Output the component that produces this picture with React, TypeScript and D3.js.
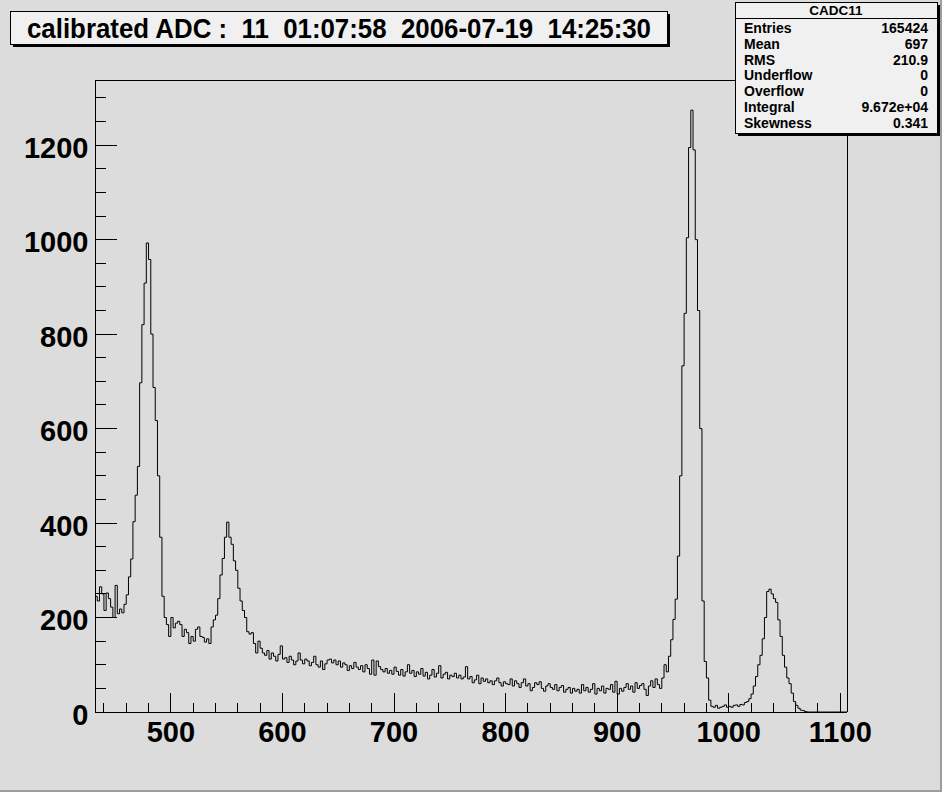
import React from "react";
import * as d3 from "d3";

// Histogram binning (ADC units)
const binLow = 432;
const binWidth = 2;
const axisMin = 432;
const axisMax = 1106;
const yMax = 1338;

// Bin contents (bin centres 433, 435, ... 1105)
const countsLowShelf = [245, 235, 265, 250, 215, 252, 240, 222, 200, 268, 208, 218, 210, 228, 248]; // 433-461
const countsPeak1 = [286, 324, 403, 459, 520, 697, 820, 908, 993, 958, 800, 687, 617, 500, 370, 245, 200]; // 463-495
const countsValley = [185, 160, 200, 178, 188, 192, 185, 160, 175, 168, 145, 160, 150, 175, 180, 160, 158, 148, 155, 145]; // 497-535
const countsPeak2 = [180, 195, 205, 240, 290, 325, 370, 402, 370, 355, 320, 300, 262, 235, 215, 200, 170, 165, 168, 145, 125, 150]; // 537-579
const countsTail1 = [
  135, 125, 120, 130, 112, 125, 118, 108, 122, 140,
  112, 115, 105, 118, 110, 100, 108, 125, 110, 102,
  112, 108, 98, 105, 118, 100, 95, 108, 90, 102,
  110, 112, 104, 110, 100, 108, 95, 104, 100, 88,
  98, 92, 105, 95, 90, 98, 85, 100, 92, 80,
  110, 78, 108, 96, 90, 85, 92, 82, 88, 80,
]; // 581-699
const countsTail2 = [
  95, 86, 78, 90, 76, 85, 100, 82, 88, 75,
  85, 80, 92, 76, 84, 70, 78, 90, 74, 82,
  98, 72, 80, 84, 70, 78, 75, 82, 72, 78,
  70, 74, 96, 70, 75, 62, 68, 78, 60, 72,
  65, 70, 62, 66, 58, 66, 72, 62, 55, 64,
]; // 701-799
const countsTail3 = [
  60, 58, 70, 55, 66, 60, 52, 62, 70, 55,
  60, 45, 52, 62, 58, 64, 50, 44, 55, 60,
  52, 48, 58, 45, 52, 56, 42, 48, 52, 40,
  50, 44, 48, 40, 58, 45, 52, 42, 48, 60,
  38, 50, 45, 55, 40, 50, 48, 58, 42, 65,
  38, 50, 44, 52, 60, 48, 55, 42, 62, 50,
  56, 60, 48, 35, 55, 66, 52, 70, 58, 50,
]; // 801-939
const countsPeak3 = [
  72, 100, 85, 118, 153, 196, 239, 330, 500, 733,
  844, 1004, 1195, 1274, 1190, 1000, 850, 600, 235, 107,
  72, 25, 12, 10, 14, 8, 10, 12, 15, 10,
]; // 941-999
const countsPeak4 = [
  12, 10, 14, 15, 12, 16, 15, 20, 22, 28,
  38, 55, 75, 100, 120, 155, 200, 255, 260, 250,
  240, 232, 195, 160, 120, 95, 72, 60, 40, 22,
  14, 8, 4, 3, 1,
]; // 1001-1069
const countsEmpty = [0, 0, 0, 0, 0, 0, 0, 0, 0, 0, 0, 0, 0, 0, 0, 0, 0, 0]; // 1071-1105

const counts = [
  ...countsLowShelf, ...countsPeak1, ...countsValley, ...countsPeak2,
  ...countsTail1, ...countsTail2, ...countsTail3, ...countsPeak3,
  ...countsPeak4, ...countsEmpty,
];

const xMajorTicks = [500, 600, 700, 800, 900, 1000, 1100];
const xMinorTicks = [440, 460, 480, 520, 540, 560, 580, 620, 640, 660, 680, 720, 740, 760, 780, 820, 840, 860, 880, 920, 940, 960, 980, 1020, 1040, 1060, 1080];
const yMajorTicks = [0, 200, 400, 600, 800, 1000, 1200];
const yMinorTicks = [50, 100, 150, 250, 300, 350, 450, 500, 550, 650, 700, 750, 850, 900, 950, 1050, 1100, 1150, 1250, 1300];

const titleText = "calibrated ADC :  11  01:07:58  2006-07-19  14:25:30";
const statsTitle = "CADC11";
const statLabels = ["Entries", "Mean", "RMS", "Underflow", "Overflow", "Integral", "Skewness"];
const statValues = ["165424", "697", "210.9", "0", "0", "9.672e+04", "0.341"];

const FONT = "'Liberation Sans', Arial, Helvetica, sans-serif";

export default function App() {
  const W = 942;
  const H = 792;
  const fl = 95, fr = 847, ft = 80, fb = 712;

  const x = d3.scaleLinear().domain([axisMin, axisMax]).range([fl, fr]);
  const y = d3.scaleLinear().domain([0, yMax]).range([fb, ft]);

  const pts: [number, number][] = [];
  counts.forEach((c, i) => {
    const x0 = binLow + i * binWidth;
    pts.push([x(x0), y(c)]);
    pts.push([x(x0 + binWidth), y(c)]);
  });
  const histPath = d3.line()(pts) || "";

  const tb = { x: 10, y: 11, w: 657, h: 33 };
  const sb = { x: 735, y: 2, w: 202, h: 131 };
  const rowH = 15.8;

  return (
    <svg width={W} height={H} style={{ position: "absolute", left: 0, top: 0 }} fontFamily={FONT}>
      <rect x={0} y={0} width={W} height={H} fill="#dcdcdc" />
      {/* canvas bevel */}
      <rect x={0} y={H - 2} width={W} height={2} fill="#9c9c9c" />
      <rect x={W - 2} y={0} width={2} height={H} fill="#9c9c9c" />

      {/* frame */}
      <g shapeRendering="crispEdges" stroke="#000" strokeWidth={1} fill="none">
        <line x1={fl} y1={ft} x2={fr} y2={ft} />
        <line x1={fr} y1={ft} x2={fr} y2={fb} />
        <line x1={fl} y1={ft} x2={fl} y2={fb} />
        <line x1={fl} y1={fb} x2={fr} y2={fb} />
        {xMajorTicks.map((t) => (
          <line key={"xM" + t} x1={x(t)} x2={x(t)} y1={fb} y2={fb - 19} />
        ))}
        {xMinorTicks.map((t) => (
          <line key={"xm" + t} x1={x(t)} x2={x(t)} y1={fb} y2={fb - 9} />
        ))}
        {yMajorTicks.map((t) => (
          <line key={"yM" + t} x1={fl} x2={fl + 22} y1={y(t)} y2={y(t)} />
        ))}
        {yMinorTicks.map((t) => (
          <line key={"ym" + t} x1={fl} x2={fl + 11} y1={y(t)} y2={y(t)} />
        ))}
      </g>

      {/* histogram */}
      <path d={histPath} fill="none" stroke="#000" strokeWidth={1} />

      {/* tick labels */}
      <g fontWeight="bold" fontSize={29} fill="#000">
        {xMajorTicks.map((t) => (
          <text key={"xl" + t} x={x(t)} y={742} textAnchor="middle">{t}</text>
        ))}
        {yMajorTicks.map((t) => (
          <text key={"yl" + t} x={88.5} y={y(t) + 12.5} textAnchor="end">{t}</text>
        ))}
      </g>

      {/* title box */}
      <rect x={tb.x + 3} y={tb.y + 3} width={tb.w} height={tb.h} fill="#000" />
      <rect x={tb.x} y={tb.y} width={tb.w} height={tb.h} fill="#f0f0f0" stroke="#000" strokeWidth={1} shapeRendering="crispEdges" />
      <text x={tb.x + 17} y={tb.y + 27} fontSize={27} fontWeight="bold" textLength={624} lengthAdjust="spacingAndGlyphs" fill="#000" xmlSpace="preserve" style={{ whiteSpace: "pre" }}>
        {titleText}
      </text>

      {/* stats box */}
      <rect x={sb.x + 3} y={sb.y + 3} width={sb.w} height={sb.h} fill="#000" />
      <rect x={sb.x} y={sb.y} width={sb.w} height={sb.h} fill="#f0f0f0" stroke="#000" strokeWidth={1} shapeRendering="crispEdges" />
      <line x1={sb.x} x2={sb.x + sb.w} y1={sb.y + 16} y2={sb.y + 16} stroke="#000" shapeRendering="crispEdges" />
      <text x={sb.x + sb.w / 2} y={sb.y + 13} textAnchor="middle" fontSize={13.5} fontWeight="bold">{statsTitle}</text>
      {statLabels.map((l, i) => (
        <g key={l} fontSize={14} fontWeight="bold">
          <text x={sb.x + 9} y={sb.y + 31 + i * rowH}>{l}</text>
          <text x={sb.x + sb.w - 9} y={sb.y + 31 + i * rowH} textAnchor="end">{statValues[i]}</text>
        </g>
      ))}
    </svg>
  );
}
